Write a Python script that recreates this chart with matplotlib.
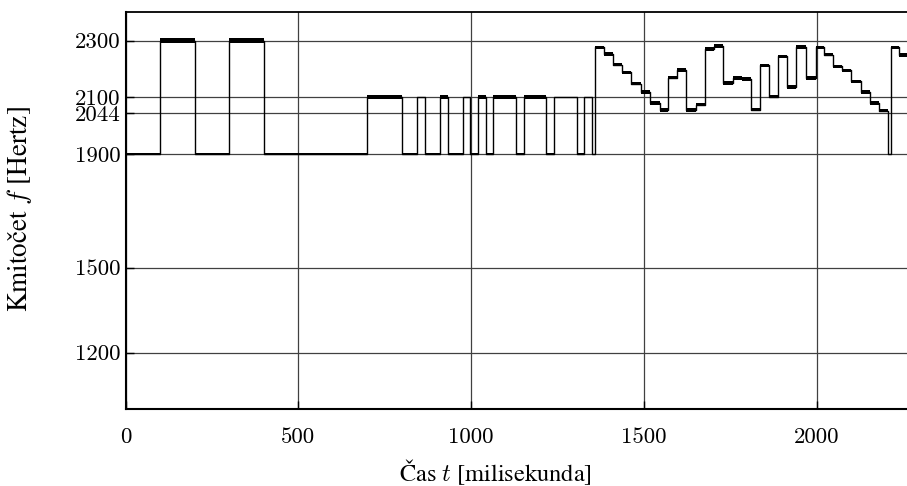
import matplotlib
matplotlib.use('Agg')
import matplotlib.pyplot as plt

# ---- data (segment start time [ms], frequency [Hz], jitter half-width [Hz])
seg_start = [0, 100, 200, 300, 400, 700, 800, 844, 866, 910,
             932, 976, 998, 1020, 1042, 1064, 1130, 1152, 1218, 1240,
             1306, 1328, 1350, 1358, 1384, 1410, 1438, 1464, 1491, 1518,
             1546, 1571, 1597, 1623, 1650, 1677, 1703, 1730, 1757, 1783,
             1810, 1836, 1863, 1889, 1916, 1942, 1969, 1998, 2022, 2048,
             2075, 2101, 2128, 2154, 2181, 2208, 2217, 2239]
seg_freq = [1900, 2300, 1900, 2300, 1900, 2102, 1900, 2100, 1900, 2100,
            1900, 2100, 1900, 2102, 1900, 2102, 1900, 2102, 1900, 2100,
            1900, 2100, 1900, 2276, 2253, 2215, 2188, 2148, 2119, 2080,
            2056, 2170, 2198, 2056, 2074, 2270, 2280, 2150, 2170, 2165,
            2056, 2213, 2103, 2245, 2135, 2278, 2170, 2276, 2250, 2209,
            2195, 2156, 2119, 2080, 2053, 1900, 2276, 2250]
seg_jitter = [3, 10, 3, 10, 3, 7, 3, 1, 3, 7,
              3, 1, 3, 7, 3, 7, 3, 7, 3, 1,
              3, 1, 1, 6, 6, 5, 5, 5, 6, 6,
              6, 6, 7, 6, 6, 7, 7, 7, 7, 6,
              5, 6, 6, 6, 7, 6, 7, 6, 5, 6,
              6, 6, 6, 6, 6, 2, 6, 6]
t_end = 2300

x_ticks = [0, 500, 1000, 1500, 2000]
y_ticks = [1200, 1500, 1900, 2044, 2100, 2300]
y_tick_labels = ['1200', '1500', '1900', '2044', '2100', '2300']
x_label = 'Čas $t$ [milisekunda]'
y_label = 'Kmitočet $f$ [Hertz]'

plt.rcParams['font.family'] = ['cmr10']
plt.rcParams['mathtext.fontset'] = 'cm'
plt.rcParams['axes.formatter.use_mathtext'] = True

fig = plt.figure(figsize=(9.07, 4.86), dpi=100)
ax = fig.add_axes([125.7 / 907, (486 - 409.3) / 486, 1 - 125.7 / 907, (409.3 - 12.3) / 486])

t = seg_start + [t_end]
f = seg_freq + [seg_freq[-1]]
j = seg_jitter + [seg_jitter[-1]]
lo = [a - b for a, b in zip(f, j)]
hi = [a + b for a, b in zip(f, j)]

ax.fill_between(t, lo, hi, step='post', color='black', linewidth=0, zorder=3)
ax.step(t, f, where='post', color='black', linewidth=1.0, zorder=4)

ax.set_xlim(0, 2262)
ax.set_ylim(1000, 2400)
ax.set_xticks(x_ticks)
ax.set_xticklabels([str(v) for v in x_ticks])
ax.set_yticks(y_ticks)
ax.set_yticklabels(y_tick_labels)

ax.grid(True, color='0.25', linewidth=0.9, zorder=1)
ax.set_axisbelow(True)
ax.tick_params(direction='in', length=6, width=1.0, labelsize=16.5)
ax.tick_params(axis='x', pad=13)
ax.tick_params(axis='y', pad=4)

for s in ['left', 'bottom']:
    ax.spines[s].set_linewidth(1.5)
ax.spines['top'].set_linewidth(1.3)
ax.spines['right'].set_visible(False)

ax.set_xlabel(x_label, fontsize=17.6, family='STIXGeneral')
ax.set_ylabel(y_label, fontsize=19.5, family='STIXGeneral')
ax.xaxis.set_label_coords(0.4727, -0.122)
ax.yaxis.set_label_coords(-0.117, 0.505)

fig.savefig('out.png', dpi=100)
